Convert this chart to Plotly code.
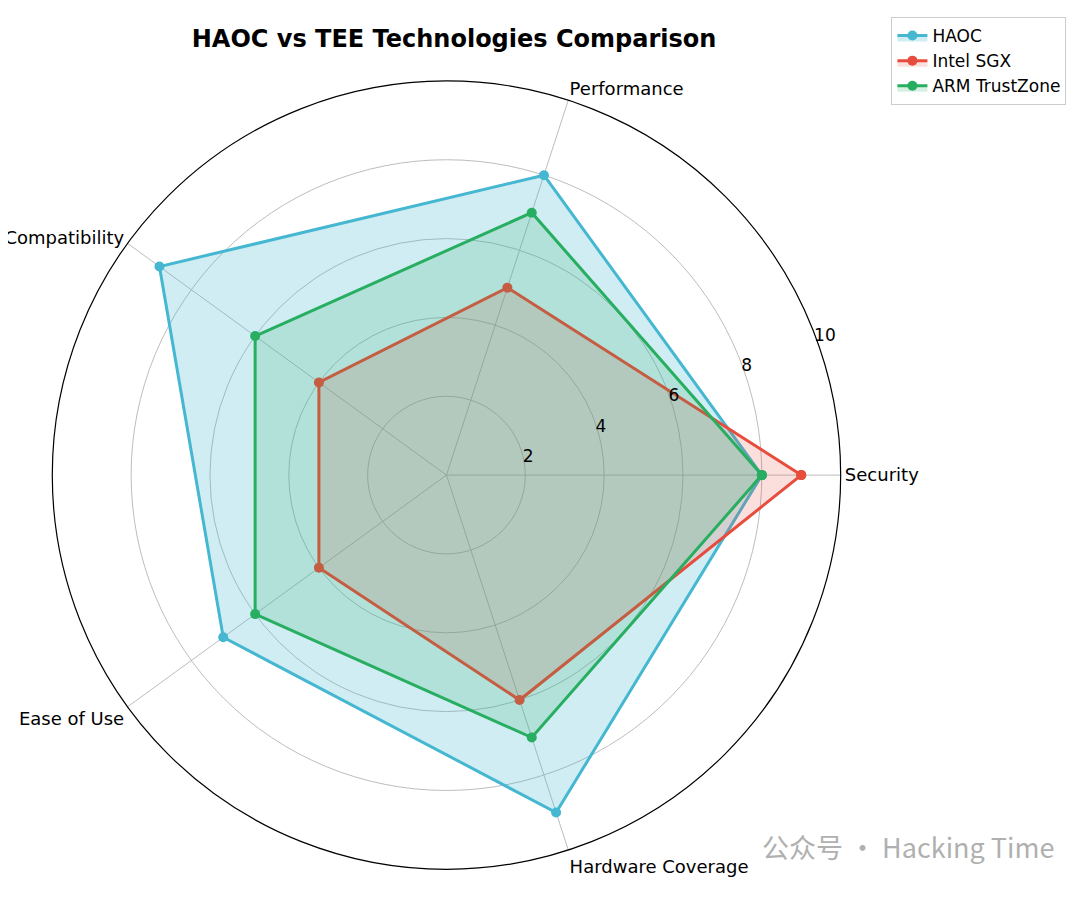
import plotly.graph_objects as go

categories = ["Security", "Performance", "Eco-Compatibility", "Ease of Use", "Hardware Coverage"]
haoc = [8, 8, 9, 7, 9]
sgx = [9, 5, 4, 4, 6]
arm = [8, 7, 6, 6, 7]
series = [("HAOC", haoc, "#45b7d1", "rgba(69,183,209,0.25)"),
          ("Intel SGX", sgx, "#e74c3c", "rgba(231,76,60,0.18)"),
          ("ARM TrustZone", arm, "#27ae60", "rgba(39,174,96,0.18)")]

fig = go.Figure()
for name, vals, col, fill in series:
    fig.add_trace(go.Scatterpolar(
        r=vals + vals[:1], theta=categories + categories[:1], name=name,
        mode="lines+markers", line=dict(color=col, width=3), marker=dict(size=10, color=col),
        fill="toself", fillcolor=fill))

fig.update_layout(
    width=1080, height=900, margin=dict(l=0, r=0, t=0, b=0),
    paper_bgcolor="white", font=dict(family="DejaVu Sans", size=17, color="black"),
    title=dict(text="<b>HAOC vs TEE Technologies Comparison</b>", x=0.413, xanchor="center", y=0.975, font=dict(size=24)),
    polar=dict(
        domain=dict(x=[0.041, 0.771], y=[0.043, 0.919]),
        bgcolor="white",
        angularaxis=dict(rotation=0, direction="counterclockwise", showline=True, linecolor="black", linewidth=1.2,
                         gridcolor="#bdbdbd", ticks="", tickfont=dict(size=18)),
        radialaxis=dict(range=[0, 10], tickvals=[2, 4, 6, 8, 10], angle=22.5, tickangle=22.5, showline=False,
                        gridcolor="#bdbdbd", ticks="", tickfont=dict(size=17))),
    legend=dict(x=0.98, y=0.99, xanchor="right", yanchor="top", bordercolor="#cccccc", borderwidth=1,
                font=dict(size=17)),
    annotations=[dict(text="公众号 · Hacking Time", x=0.97, y=0.045, xref="paper", yref="paper", xanchor="right",
                      showarrow=False, font=dict(size=27, color="#b0b0b0", family="Noto Sans CJK SC"))])
fig.write_html("out.html")
